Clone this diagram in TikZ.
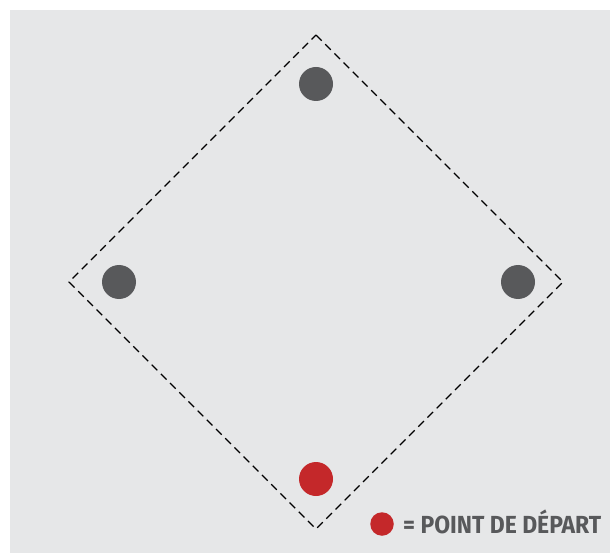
\documentclass[tikz,border=0pt]{standalone}
\usepackage{fontspec}
\setmainfont{Fira Sans}
\usepackage{graphicx}
\definecolor{bg}{HTML}{E6E7E8}
\definecolor{dotgray}{HTML}{58595B}
\definecolor{dotred}{HTML}{C4282A}
\begin{document}
\begin{tikzpicture}[x=1pt,y=-1pt,
  base/.style={circle,fill=dotgray,draw=none,minimum size=34pt,inner sep=0pt},
  start/.style={circle,fill=dotred,draw=none,minimum size=34pt,inner sep=0pt},
  field/.style={draw=black,line width=1.1pt,dash pattern=on 8pt off 5pt}]
\useasboundingbox (0,0) rectangle (610,553);
\fill[white] (0,0) rectangle (610,553);
\fill[bg] (10,10) rectangle (610,553);
\coordinate (T) at (316,35);
\coordinate (L) at (69,282);
\coordinate (R) at (563,282);
\coordinate (B) at (316,529);
\draw[field] (T) -- (R) -- (B) -- (L) -- cycle;
\node[base] (b2) at (316,84) {};
\node[base] (b3) at (119,282) {};
\node[base] (b1) at (518,282) {};
\node[start] (home) at (316,479) {};
\node[circle,fill=dotred,minimum size=23.5pt,inner sep=0pt] (legdot) at (382,524) {};
\node[anchor=base west,inner sep=0pt,text=dotgray] (legtxt) at (403,533)
  {\resizebox{198pt}{\height}{\fontsize{24.7pt}{26pt}\selectfont\bfseries = POINT DE DÉPART}};
\end{tikzpicture}
\end{document}
